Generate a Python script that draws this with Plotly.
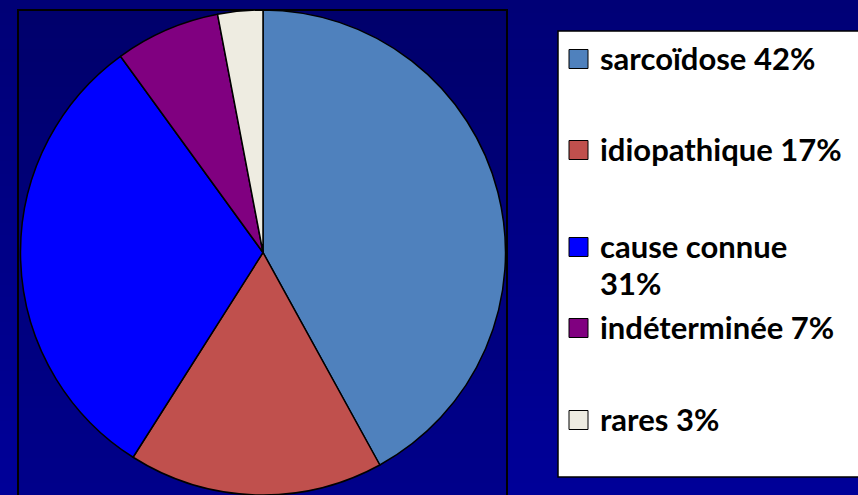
import plotly.graph_objects as go

W, H = 858, 495

# ---- data ----
labels = ["sarcoïdose", "idiopathique", "cause connue", "indéterminée", "rares"]
values = [42, 17, 31, 7, 3]
colors = ["#4F81BD", "#C0504D", "#0000FF", "#800080", "#EEECE1"]
legend_text = ["sarcoïdose 42%", "idiopathique 17%", "cause connue<br>31%",
               "indéterminée 7%", "rares 3%"]

# legend row centers (px from top)
legend_rows = [59, 150, 247, 328, 420]


def px_x(x):
    return x / W


def px_y(y):
    return 1 - y / H


fig = go.Figure()
fig.add_trace(go.Pie(
    labels=labels, values=values, sort=False, direction="clockwise", rotation=0,
    marker=dict(colors=colors, line=dict(color="black", width=1.5)),
    textinfo="none", hoverinfo="label+percent", showlegend=False,
    domain=dict(x=[px_x(20), px_x(506)], y=[0, px_y(10)]),
))

shapes = []
# background vertical gradient
n = 40
c0, c1 = 118, 152
for i in range(n):
    b = round(c0 + (c1 - c0) * i / (n - 1))
    shapes.append(dict(type="rect", xref="paper", yref="paper", layer="below",
                       x0=0, x1=1, y0=1 - (i + 1) / n - 0.002, y1=1 - i / n,
                       fillcolor=f"rgb(0,0,{b})", line=dict(width=0)))
# plot-area frame
shapes.append(dict(type="rect", xref="paper", yref="paper", layer="below",
                   x0=px_x(18), x1=px_x(507), y0=px_y(500), y1=px_y(10),
                   fillcolor="rgba(0,0,20,0.10)", line=dict(color="black", width=2)))
# legend box
shapes.append(dict(type="rect", xref="paper", yref="paper", layer="above",
                   x0=px_x(558), x1=px_x(862), y0=px_y(477), y1=px_y(31),
                   fillcolor="white", line=dict(color="black", width=1.5)))

annotations = []
for txt, col, yc in zip(legend_text, colors, legend_rows):
    shapes.append(dict(type="rect", xref="paper", yref="paper", layer="above",
                       x0=px_x(569), x1=px_x(588), y0=px_y(yc + 9.5), y1=px_y(yc - 9.5),
                       fillcolor=col, line=dict(color="black", width=1)))
    for k, line in enumerate(txt.split("<br>")):
        annotations.append(dict(
            text=f"<b>{line}</b>", xref="paper", yref="paper",
            x=px_x(598), y=px_y(yc - 1 + 37 * k),
            xanchor="left", yanchor="middle", align="left", showarrow=False,
            font=dict(family="Lato", size=31, color="black"),
        ))

fig.update_layout(
    width=W, height=H, margin=dict(l=0, r=0, t=0, b=0),
    paper_bgcolor="#000080", plot_bgcolor="#000080",
    shapes=shapes, annotations=annotations, showlegend=False,
)

fig.write_html("out.html")
